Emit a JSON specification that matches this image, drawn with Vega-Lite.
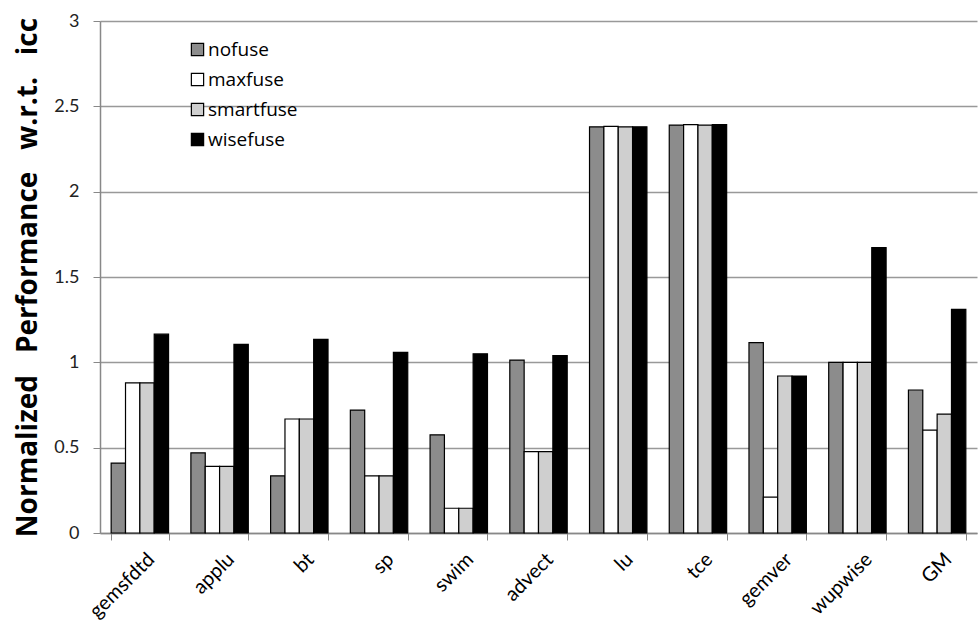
{
  "$schema": "https://vega.github.io/schema/vega-lite/v6.json",
  "autosize": "none",
  "padding": {"left": 100, "top": 21, "right": 1, "bottom": 96},
  "width": 877,
  "height": 512,
  "background": "white",
  "config": {
    "view": {"stroke": null},
    "font": "Lato",
    "axis": {"labelFont": "Lato", "titleFont": "Open Sans"},
    "legend": {"labelFont": "Open Sans"}
  },
  "data": {
    "values": [
      {"bench": "gemsfdtd", "config": "nofuse", "value": 0.41},
      {"bench": "gemsfdtd", "config": "maxfuse", "value": 0.88},
      {"bench": "gemsfdtd", "config": "smartfuse", "value": 0.88},
      {"bench": "gemsfdtd", "config": "wisefuse", "value": 1.165},
      {"bench": "applu", "config": "nofuse", "value": 0.47},
      {"bench": "applu", "config": "maxfuse", "value": 0.39},
      {"bench": "applu", "config": "smartfuse", "value": 0.39},
      {"bench": "applu", "config": "wisefuse", "value": 1.105},
      {"bench": "bt", "config": "nofuse", "value": 0.335},
      {"bench": "bt", "config": "maxfuse", "value": 0.668},
      {"bench": "bt", "config": "smartfuse", "value": 0.668},
      {"bench": "bt", "config": "wisefuse", "value": 1.135},
      {"bench": "sp", "config": "nofuse", "value": 0.72},
      {"bench": "sp", "config": "maxfuse", "value": 0.335},
      {"bench": "sp", "config": "smartfuse", "value": 0.335},
      {"bench": "sp", "config": "wisefuse", "value": 1.058},
      {"bench": "swim", "config": "nofuse", "value": 0.575},
      {"bench": "swim", "config": "maxfuse", "value": 0.145},
      {"bench": "swim", "config": "smartfuse", "value": 0.145},
      {"bench": "swim", "config": "wisefuse", "value": 1.05},
      {"bench": "advect", "config": "nofuse", "value": 1.013},
      {"bench": "advect", "config": "maxfuse", "value": 0.477},
      {"bench": "advect", "config": "smartfuse", "value": 0.477},
      {"bench": "advect", "config": "wisefuse", "value": 1.04},
      {"bench": "lu", "config": "nofuse", "value": 2.38},
      {"bench": "lu", "config": "maxfuse", "value": 2.382},
      {"bench": "lu", "config": "smartfuse", "value": 2.38},
      {"bench": "lu", "config": "wisefuse", "value": 2.38},
      {"bench": "tce", "config": "nofuse", "value": 2.39},
      {"bench": "tce", "config": "maxfuse", "value": 2.393},
      {"bench": "tce", "config": "smartfuse", "value": 2.39},
      {"bench": "tce", "config": "wisefuse", "value": 2.393},
      {"bench": "gemver", "config": "nofuse", "value": 1.115},
      {"bench": "gemver", "config": "maxfuse", "value": 0.21},
      {"bench": "gemver", "config": "smartfuse", "value": 0.92},
      {"bench": "gemver", "config": "wisefuse", "value": 0.92},
      {"bench": "wupwise", "config": "nofuse", "value": 1.0},
      {"bench": "wupwise", "config": "maxfuse", "value": 1.0},
      {"bench": "wupwise", "config": "smartfuse", "value": 1.0},
      {"bench": "wupwise", "config": "wisefuse", "value": 1.672},
      {"bench": "GM", "config": "nofuse", "value": 0.838},
      {"bench": "GM", "config": "maxfuse", "value": 0.603},
      {"bench": "GM", "config": "smartfuse", "value": 0.697},
      {"bench": "GM", "config": "wisefuse", "value": 1.31}
    ]
  },
  "mark": {"type": "bar", "stroke": "black", "strokeWidth": 1.2},
  "encoding": {
    "x": {
      "field": "bench",
      "type": "nominal",
      "sort": null,
      "scale": {"paddingInner": 0.28, "paddingOuter": 0.14},
      "axis": {
        "title": null,
        "labelAngle": -45,
        "labelAlign": "right",
        "labelBaseline": "top",
        "labelFontSize": 20,
        "labelColor": "black",
        "labelPadding": 9,
        "labelOffset": 4,
        "tickBand": "extent",
        "tickColor": "#888888",
        "tickSize": 7,
        "domainColor": "#888888",
        "domainWidth": 1.5
      }
    },
    "xOffset": {
      "field": "config",
      "type": "nominal",
      "sort": ["nofuse", "maxfuse", "smartfuse", "wisefuse"],
      "scale": {"paddingInner": 0, "paddingOuter": 0}
    },
    "y": {
      "field": "value",
      "type": "quantitative",
      "scale": {"domain": [0, 3]},
      "axis": {
        "title": "Normalized\u00a0\u00a0\u00a0Performance\u00a0\u00a0\u00a0w.r.t.\u00a0\u00a0\u00a0icc",
        "titleFontSize": 28,
        "titleFontWeight": "bold",
        "titleColor": "black",
        "titlePadding": 11,
        "values": [0, 0.5, 1, 1.5, 2, 2.5, 3],
        "format": "~g",
        "labelFontSize": 18,
        "labelColor": "#222222",
        "labelPadding": 14,
        "tickSize": 7,
        "tickColor": "#888888",
        "domainColor": "#888888",
        "domainWidth": 1.5,
        "gridColor": "#999999",
        "gridWidth": 1.5
      }
    },
    "fill": {
      "field": "config",
      "type": "nominal",
      "sort": ["nofuse", "maxfuse", "smartfuse", "wisefuse"],
      "scale": {
        "domain": ["nofuse", "maxfuse", "smartfuse", "wisefuse"],
        "range": ["#8c8c8c", "#ffffff", "#cfcfcf", "#000000"]
      },
      "legend": {
        "title": null,
        "orient": "none",
        "legendX": 88,
        "legendY": 19,
        "symbolType": "square",
        "symbolSize": 150,
        "symbolStrokeColor": "black",
        "symbolStrokeWidth": 1.2,
        "labelFontSize": 19,
        "labelColor": "black",
        "rowPadding": 10,
        "labelOffset": 1
      }
    }
  }
}
